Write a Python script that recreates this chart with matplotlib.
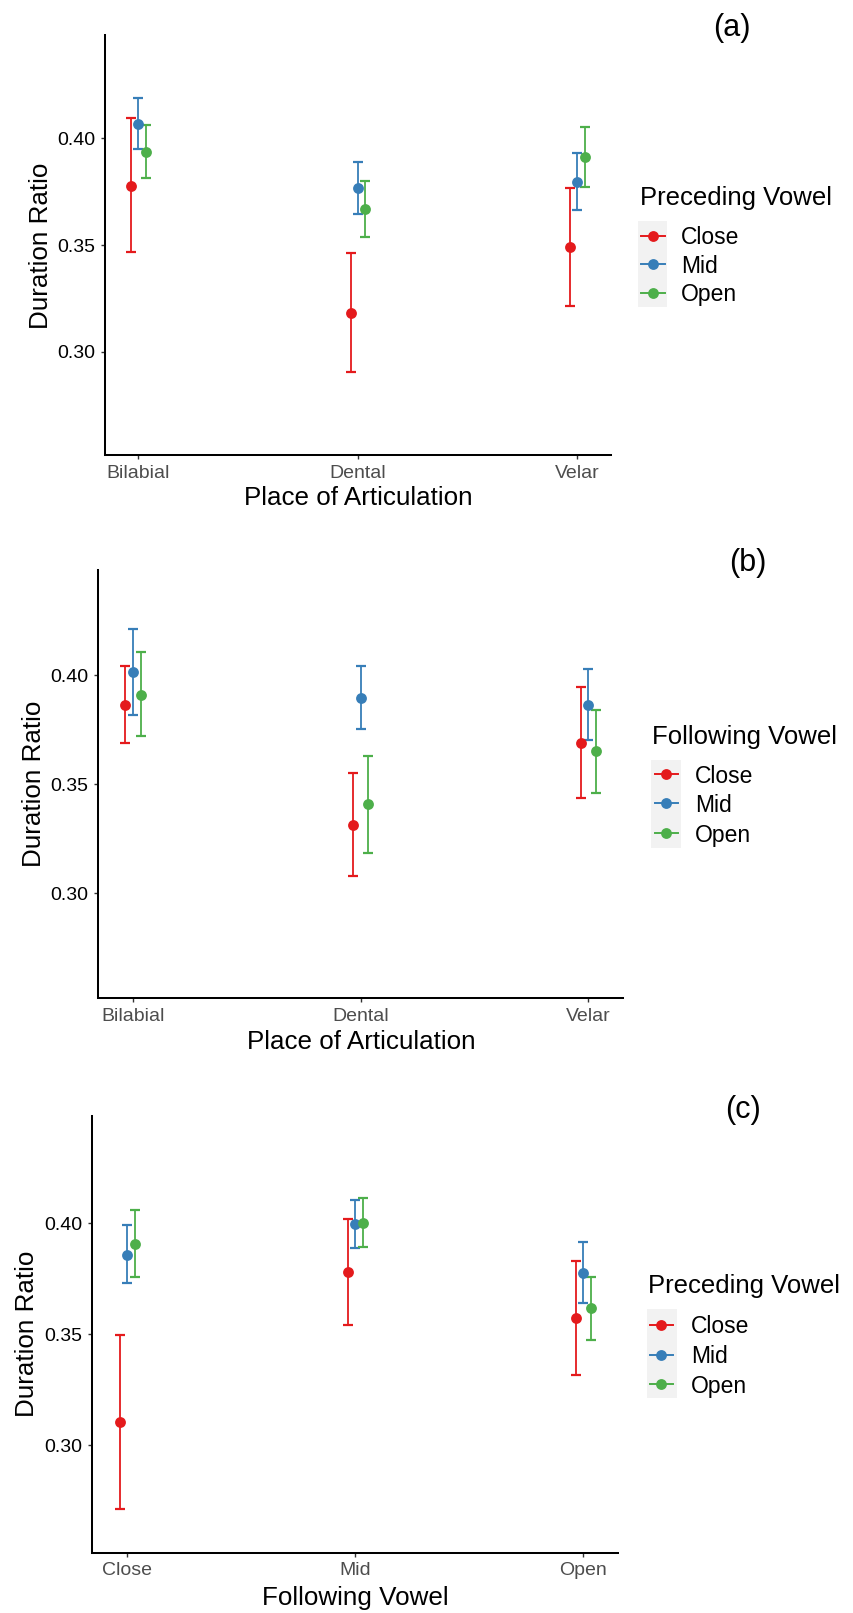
import matplotlib
matplotlib.use('Agg')
import matplotlib.pyplot as plt
from matplotlib.lines import Line2D
from matplotlib.patches import Rectangle

# ---------------- data ----------------
vowel_groups = ['Close', 'Mid', 'Open']
group_colors = ['#E41A1C', '#377EB8', '#4DAF4A']

place_cats = ['Bilabial', 'Dental', 'Velar']
following_cats = ['Close', 'Mid', 'Open']

# (a) Preceding vowel x Place of articulation
a_mean = [[0.3778, 0.3183, 0.3492],
          [0.4067, 0.3766, 0.3797],
          [0.3938, 0.3669, 0.3914]]
a_low = [[0.3466, 0.2903, 0.3216],
         [0.3950, 0.3644, 0.3663],
         [0.3813, 0.3538, 0.3773]]
a_high = [[0.4094, 0.3464, 0.3770],
          [0.4188, 0.3889, 0.3930],
          [0.4063, 0.3800, 0.4055]]

# (b) Following vowel x Place of articulation
b_mean = [[0.3865, 0.3314, 0.3689],
          [0.4015, 0.3898, 0.3866],
          [0.3912, 0.3408, 0.3651]]
b_low = [[0.3689, 0.3080, 0.3435],
         [0.3818, 0.3755, 0.3705],
         [0.3720, 0.3185, 0.3458]]
b_high = [[0.4045, 0.3551, 0.3946],
          [0.4212, 0.4043, 0.4031],
          [0.4108, 0.3632, 0.3843]]

# (c) Preceding vowel x Following vowel
c_mean = [[0.3103, 0.3779, 0.3573],
          [0.3859, 0.3995, 0.3778],
          [0.3905, 0.4000, 0.3616]]
c_low = [[0.2712, 0.3541, 0.3317],
         [0.3729, 0.3888, 0.3640],
         [0.3758, 0.3891, 0.3473]]
c_high = [[0.3496, 0.4021, 0.3830],
          [0.3991, 0.4103, 0.3914],
          [0.4058, 0.4113, 0.3760]]

y_ticks = [0.30, 0.35, 0.40]
y_tick_labels = ['0.30', '0.35', '0.40']

# ---------------- style ----------------
W, H = 854, 1613
plt.rcParams['font.family'] = ['Liberation Sans', 'DejaVu Sans']

fig = plt.figure(figsize=(W / 100, H / 100), dpi=100)


def fx(x):
    return x / W


def fy(y):
    return 1 - y / H


def panel(rect_px, cats, mean, low, high, xlab, xlab_xy, ylab_xy, tag, tag_xy):
    x0, x1, y0, y1 = rect_px
    ax = fig.add_axes([fx(x0), fy(y1), (x1 - x0) / W, (y1 - y0) / H])
    offs = [-0.033, 0.0, 0.034]
    for g in range(3):
        xs = [i + 1 + offs[g] for i in range(len(cats))]
        m = mean[g]
        lo = [m[i] - low[g][i] for i in range(len(cats))]
        hi = [high[g][i] - m[i] for i in range(len(cats))]
        ax.errorbar(xs, m, yerr=[lo, hi], fmt='none',
                    ecolor=group_colors[g], elinewidth=1.3, capsize=3.6,
                    capthick=1.6, zorder=2)
        ax.plot(xs, m, 'o', color=group_colors[g], markersize=7.8,
                markeredgewidth=0, zorder=3)
    ax.set_xlim(0.847, 3.153)
    ax.set_ylim(0.2516, 0.4485)
    ax.set_xticks([1, 2, 3])
    ax.set_xticklabels(cats)
    ax.set_yticks(y_ticks)
    ax.set_yticklabels(y_tick_labels)
    for s in ['top', 'right']:
        ax.spines[s].set_visible(False)
    for s in ['left', 'bottom']:
        ax.spines[s].set_linewidth(1.45)
        ax.spines[s].set_color('black')
    ax.tick_params(axis='y', length=3, width=1.0, color='#333333', pad=4)
    ax.tick_params(axis='x', length=3, width=1.0, color='#333333', pad=4)
    for lab in ax.get_xticklabels():
        lab.set_fontsize(14)
        lab.set_color('#4D4D4D')
    for lab in ax.get_yticklabels():
        lab.set_fontsize(14)
        lab.set_color('black')
    fig.text(fx(xlab_xy[0]), fy(xlab_xy[1]), xlab, ha='center', va='baseline', fontsize=18.7)
    fig.text(fx(ylab_xy[0]), fy(ylab_xy[1]), 'Duration Ratio', ha='center', va='baseline',
             rotation=90, rotation_mode='anchor', fontsize=18.7)
    fig.text(fx(tag_xy[0]), fy(tag_xy[1]), tag, ha='center', va='center', fontsize=22)
    return ax


def legend(title, title_xy, box, key_x, key_ys, text_x, text_ys):
    fig.text(fx(title_xy[0]), fy(title_xy[1]), title, ha='left', va='baseline', fontsize=18.5)
    bx0, bx1, by0, by1 = box
    fig.add_artist(Rectangle((fx(bx0), fy(by1)), (bx1 - bx0) / W, (by1 - by0) / H,
                             transform=fig.transFigure, facecolor='#F2F2F2', edgecolor='none'))
    for g in range(3):
        yk = fy(key_ys[g])
        fig.add_artist(Line2D([fx(key_x[0]), fx(key_x[1])], [yk, yk], transform=fig.transFigure,
                              color=group_colors[g], lw=1.4))
        fig.add_artist(Line2D([fx((key_x[0] + key_x[1]) / 2)], [yk], transform=fig.transFigure,
                              color=group_colors[g], marker='o', markersize=7.8, markeredgewidth=0,
                              linestyle='none'))
        fig.text(fx(text_x), fy(text_ys[g]), vowel_groups[g], ha='left', va='baseline', fontsize=16.5)


panel((104.8, 610.9, 35, 455), place_cats, a_mean, a_low, a_high,
      'Place of Articulation', (357.9, 505), (48.2, 246), '(a)', (732, 28))
legend('Preceding Vowel', (640, 205), (638, 667, 221, 307), (641, 665),
       (236, 264.3, 292.7), 681, (244.3, 272.7, 300.7))

panel((98, 623.3, 570, 998.3), place_cats, b_mean, b_low, b_high,
      'Place of Articulation', (361.3, 1049), (40.8, 784), '(b)', (748, 563))
legend('Following Vowel', (652, 744), (651, 681, 760, 848), (655, 678),
       (774, 803.3, 833.3), 695, (782.7, 811.7, 841.7))

panel((92.3, 618.4, 1115.7, 1552.5), following_cats, c_mean, c_low, c_high,
      'Following Vowel', (355.1, 1605), (33.5, 1334), '(c)', (743, 1110))
legend('Preceding Vowel', (648, 1292.7), (647, 677, 1309, 1398), (650, 673),
       (1325, 1355, 1384), 691, (1333.3, 1362.7, 1392.7))

fig.savefig('out.png', dpi=100, facecolor='white')
